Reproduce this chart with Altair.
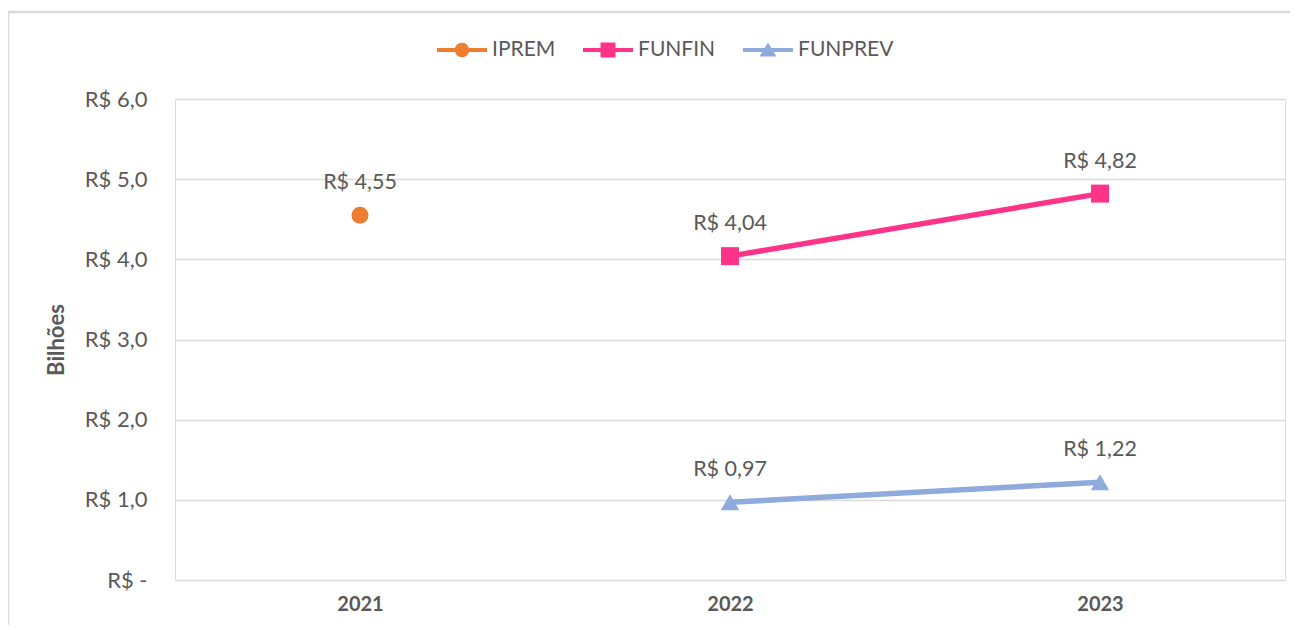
import altair as alt
import pandas as pd

years = ["2021", "2022", "2023"]
series_names = ["IPREM", "FUNFIN", "FUNPREV"]
ipre_vals = [4.55, None, None]
funfin_vals = [None, 4.04, 4.82]
funprev_vals = [None, 0.97, 1.22]
colors = ["#ED7D31", "#FF3388", "#8FAADC"]
marker_shapes = ["circle", "square", "triangle-up"]

rows = []
for name, col, vals in zip(series_names, colors, [ipre_vals, funfin_vals, funprev_vals]):
    for y, v in zip(years, vals):
        if v is not None:
            rows.append({"ano": y, "serie": name, "valor": v, "cor": col,
                         "rotulo": "R$ " + f"{v:.2f}".replace(".", ",")})
df = pd.DataFrame(rows)

FONT = "Lato"
TXT = "#595959"

# legend symbol paths: line segment + marker
line_part = "M-1,-0.08H1V0.08H-1Z "
legend_paths = [
    line_part + "M0,-0.29A0.29,0.29 0 1,1 0,0.29A0.29,0.29 0 1,1 0,-0.29Z",
    line_part + "M-0.3,-0.3H0.3V0.3H-0.3Z",
    line_part + "M0,-0.3L0.34,0.26H-0.34Z",
]

x_enc = alt.X("ano:N", scale=alt.Scale(type="point", padding=0.5, domain=years),
              axis=alt.Axis(title=None, labelFont=FONT, labelFontSize=20, labelFontWeight="bold",
                            labelColor=TXT, labelPadding=14, ticks=False, domain=False, grid=False,
                            labelAngle=0))
y_enc = alt.Y("valor:Q", scale=alt.Scale(domain=[0, 6], nice=False),
              axis=alt.Axis(title="Bilhões", titleFont=FONT, titleFontSize=22, titleFontWeight="bold",
                            titleColor=TXT, titlePadding=16, values=[0, 1, 2, 3, 4, 5, 6],
                            labelExpr="datum.value == 0 ? 'R$ -   ' : 'R$ ' + replace(format(datum.value, '.1f'), '.', ',')",
                            labelFont=FONT, labelFontSize=22, labelColor=TXT, labelPadding=28,
                            ticks=False, domain=False, gridColor="#D9D9D9", gridWidth=1.5))

base = alt.Chart(df)

border = base.mark_rect(fill="transparent", stroke="#D9D9D9", strokeWidth=2.5, clip=False).encode(
    x=alt.value(-167), x2=alt.value(1140), y=alt.value(-87), y2=alt.value(560)
).transform_filter("datum.serie == 'IPREM'")

lines = base.mark_line(strokeWidth=5.5).encode(
    x=x_enc, y=y_enc,
    color=alt.Color("cor:N", scale=None),
    detail="serie:N",
)

point_layers = []
for name, shp, sz in zip(series_names, marker_shapes, [289, 324, 340]):
    point_layers.append(
        base.transform_filter(alt.datum.serie == name).mark_point(
            filled=True, shape=shp, size=sz, opacity=1
        ).encode(x="ano:N", y="valor:Q", color=alt.Color("cor:N", scale=None))
    )

leg = alt.Legend(title=None, orient="none", direction="horizontal",
                 legendX=262, legendY=-74, symbolSize=2500,
                 symbolOpacity=1, symbolStrokeWidth=0,
                 labelFont=FONT, labelFontSize=21, labelColor=TXT,
                 labelOffset=5, columnPadding=27)

legend_layer = base.mark_point(filled=True, opacity=0).encode(
    x="ano:N", y="valor:Q",
    fill=alt.Fill("serie:N", scale=alt.Scale(domain=series_names, range=colors), legend=leg),
    shape=alt.Shape("serie:N", scale=alt.Scale(domain=series_names, range=legend_paths), legend=leg),
)

labels = base.mark_text(font=FONT, fontSize=21.5, color=TXT, dy=-32).encode(
    x="ano:N", y="valor:Q", text="rotulo:N"
)

chart = alt.layer(border, lines, *point_layers, legend_layer, labels).properties(
    width=1110, height=481,
    autosize=alt.AutoSizeParams(type="none"),
    padding={"left": 167, "top": 91, "right": 5, "bottom": 45},
).configure_view(stroke=None).configure(background="white")

chart.save("out.html", embed_options={"renderer": "svg", "actions": False})
